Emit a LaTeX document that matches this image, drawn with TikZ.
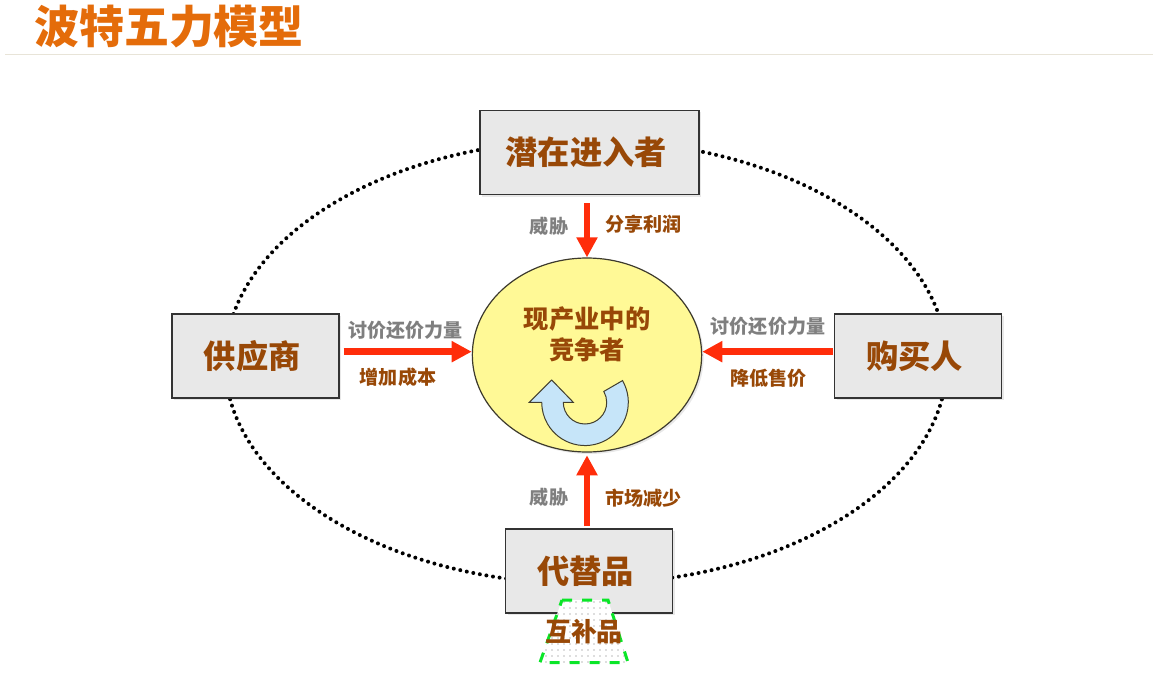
\documentclass[tikz,border=0pt]{standalone}
\usepackage{fontspec}
\setmainfont{Noto Sans CJK SC}
\usetikzlibrary{arrows.meta,patterns.meta,shadows,shapes.geometric}
\definecolor{titleorange}{RGB}{228,108,10}
\definecolor{labelbrown}{RGB}{152,72,7}
\definecolor{labelgray}{RGB}{127,127,127}
\definecolor{arrowred}{RGB}{255,45,10}
\definecolor{corefill}{RGB}{255,249,150}
\definecolor{turnfill}{RGB}{198,229,249}
\definecolor{dashgreen}{RGB}{10,230,40}
\definecolor{rulecolor}{RGB}{232,228,216}
\newcommand{\boxlabel}[1]{\hspace*{-5pt}\raisebox{-1.5pt}{#1}}
\tikzset{
  softshadow/.style={drop shadow={shadow xshift=1.5pt,shadow yshift=-1.5pt,opacity=.09,fill=black}},
  forcebox/.style={draw=black!80,line width=.9pt,fill=black!9,minimum height=63pt,minimum width=125.25pt,inner sep=0,
    font=\bfseries\fontsize{24.2}{28}\selectfont,text=labelbrown,softshadow},
  forcearrow/.style={-{Triangle[width=15pt,length=15pt]},line width=5pt,draw=arrowred},
  brownlabel/.style={font=\bfseries\fontsize{14.3}{17}\selectfont,text=labelbrown,inner sep=0},
  graylabel/.style={font=\bfseries\fontsize{14.3}{17}\selectfont,text=labelgray,inner sep=0}
}
\begin{document}
\begin{tikzpicture}[x=.75pt,y=-.75pt]
  \useasboundingbox (0,0) rectangle (1157,674);

  \node[font=\bfseries\fontsize{33.7}{38}\selectfont,text=titleorange,inner sep=0] (title) at (169,27) {波特五力模型};
  \coordinate (ruleleft) at (5,55);
  \coordinate (ruleright) at (1153,55);
  \draw[line width=.75pt,color=rulecolor] (ruleleft) -- (ruleright);

  \node[ellipse,draw=black,line width=3pt,dash pattern=on 0pt off 5pt,line cap=round,minimum width=541.5pt,minimum height=333pt,inner sep=0] (ring) at (586,362) {};

  \node[forcebox,minimum width=164.25pt] (entrant) at (589.5,152.5) {\boxlabel{潜在进入者}};
  \node[forcebox] (supplier) at (255.5,356) {\boxlabel{供应商}};
  \node[forcebox] (buyer) at (918,356) {\boxlabel{购买人}};
  \node[forcebox] (substitute) at (589,571) {\boxlabel{代替品}};

  \filldraw[color=dashgreen,line width=2.25pt,dash pattern=on 7.5pt off 7.5pt,preaction={fill=white},pattern={Dots[distance=4.5pt,radius=.5pt]},pattern color=black!55]
    (562,600) -- (608,600) -- (628,662.5) -- (540,662.5) -- cycle;
  \node[brownlabel,font=\bfseries\fontsize{19.4}{22}\selectfont] (complement) at (584,632) {互补品};

  \node[ellipse,draw=black!75!olive,line width=.9pt,fill=corefill,minimum width=172pt,minimum height=145.5pt,inner sep=0,softshadow] (core) at (587,355) {};
  \node[font=\bfseries\fontsize{19}{23.5}\selectfont,text=labelbrown,align=center,inner sep=0] (corelabel) at (587,334) {现产业中的\\竞争者};

  \filldraw[draw=black!70!olive,line width=.75pt,fill=turnfill]
    (563.3,402.3) arc (180:-30:21.7) -- (622.5,380.6) arc (-30:180:43.3)
    -- (529.3,402.3) -- (551.7,380) -- (573.3,402.3) -- cycle;

  \draw[forcearrow,shorten <=6pt] (core.north |- entrant.south) -- (core.north);
  \draw[forcearrow,shorten <=1.5pt,shorten >=2pt] (core.south |- substitute.north) -- (core.south);
  \draw[forcearrow] ([xshift=3pt,yshift=3.25pt]supplier.east) -- ([yshift=2.5pt]core.west);
  \draw[forcearrow] ([xshift=-1pt,yshift=3.25pt]buyer.west) -- ([yshift=2.5pt]core.east);

  \node[graylabel] (threattop) at (549,226) {威胁};
  \node[brownlabel] (share) at (643.5,224) {分享利润};
  \node[graylabel] (threatbottom) at (549,497) {威胁};
  \node[brownlabel] (shrink) at (643.5,498) {市场减少};
  \node[graylabel] (bargainleft) at (405.5,330) {讨价还价力量};
  \node[brownlabel] (cost) at (398,377) {增加成本};
  \node[graylabel] (bargainright) at (768,326) {讨价还价力量};
  \node[brownlabel] (price) at (768.5,378) {降低售价};
\end{tikzpicture}
\end{document}
